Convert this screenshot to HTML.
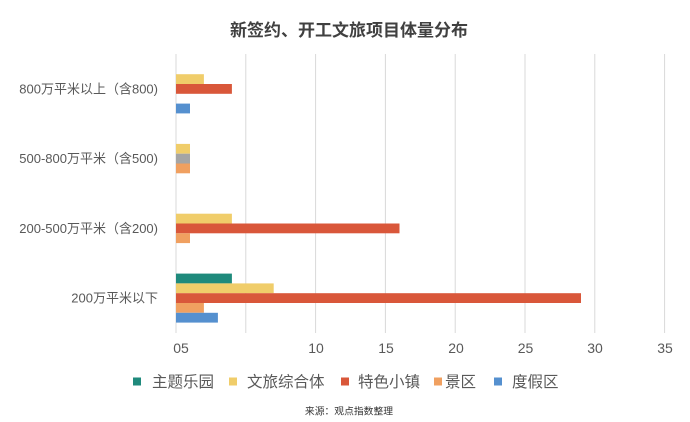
<!DOCTYPE html>
<html><head><meta charset="utf-8"><style>
html,body{margin:0;padding:0;background:#fff;}
svg{display:block;font-family:"Liberation Sans","Noto Sans CJK SC",sans-serif;}
</style></head><body>
<svg width="690" height="422" viewBox="0 0 690 422" xmlns="http://www.w3.org/2000/svg">
<rect width="690" height="422" fill="#fff"/>
<text x="349" y="36" text-anchor="middle" font-size="17" font-weight="bold" fill="#404040">新签约、开工文旅项目体量分布</text>
<g stroke="#d9d9d9" stroke-width="1">
<line x1="176" y1="54" x2="176" y2="333"/>
<line x1="245.8" y1="54" x2="245.8" y2="333"/>
<line x1="315.6" y1="54" x2="315.6" y2="333"/>
<line x1="385.4" y1="54" x2="385.4" y2="333"/>
<line x1="455.2" y1="54" x2="455.2" y2="333"/>
<line x1="525" y1="54" x2="525" y2="333"/>
<line x1="594.8" y1="54" x2="594.8" y2="333"/>
<line x1="664.6" y1="54" x2="664.6" y2="333"/>
</g>
<rect x="176" y="74.2" width="27.9" height="9.8" fill="#f0cd6a"/>
<rect x="176" y="84" width="55.9" height="9.8" fill="#d9573a"/>
<rect x="176" y="103.6" width="14" height="9.8" fill="#5590cf"/>
<rect x="176" y="143.9" width="14" height="9.8" fill="#f0cd6a"/>
<rect x="176" y="153.7" width="14" height="9.8" fill="#a5a5a5"/>
<rect x="176" y="163.5" width="14" height="9.8" fill="#f0a060"/>
<rect x="176" y="213.7" width="55.9" height="9.8" fill="#f0cd6a"/>
<rect x="176" y="223.5" width="223.5" height="9.8" fill="#d9573a"/>
<rect x="176" y="233.3" width="14" height="9.8" fill="#f0a060"/>
<rect x="176" y="273.6" width="55.9" height="9.8" fill="#1f8a7c"/>
<rect x="176" y="283.4" width="97.7" height="9.8" fill="#f0cd6a"/>
<rect x="176" y="293.2" width="405" height="9.8" fill="#d9573a"/>
<rect x="176" y="303" width="27.9" height="9.8" fill="#f0a060"/>
<rect x="176" y="312.8" width="41.9" height="9.8" fill="#5590cf"/>
<g font-size="13" fill="#595959" text-anchor="end">
<text x="158" y="93.5">800万平米以上（含800)</text>
<text x="158" y="163.2">500-800万平米（含500)</text>
<text x="158" y="233">200-500万平米（含200)</text>
<text x="158" y="302.7">200万平米以下</text>
</g>
<g font-size="14" fill="#595959" text-anchor="middle">
<text x="181" y="353">05</text>
<text x="316" y="353">10</text>
<text x="386" y="353">15</text>
<text x="456" y="353">20</text>
<text x="525.5" y="353">25</text>
<text x="595" y="353">30</text>
<text x="665" y="353">35</text>
</g>
<g font-size="15.5" fill="#595959">
<rect x="133" y="377.5" width="8" height="8" fill="#1f8a7c"/>
<text x="152" y="387">主题乐园</text>
<rect x="229" y="377.5" width="8" height="8" fill="#f0cd6a"/>
<text x="247" y="387">文旅综合体</text>
<rect x="341" y="377.5" width="8" height="8" fill="#d9573a"/>
<text x="358" y="387">特色小镇</text>
<rect x="434" y="377.5" width="8" height="8" fill="#f0a060"/>
<text x="445" y="387">景区</text>
<rect x="494" y="377.5" width="8" height="8" fill="#5590cf"/>
<text x="512" y="387">度假区</text>
</g>
<text x="349" y="414.5" text-anchor="middle" font-size="9.8" fill="#333">来源：观点指数整理</text>
</svg>
</body></html>
